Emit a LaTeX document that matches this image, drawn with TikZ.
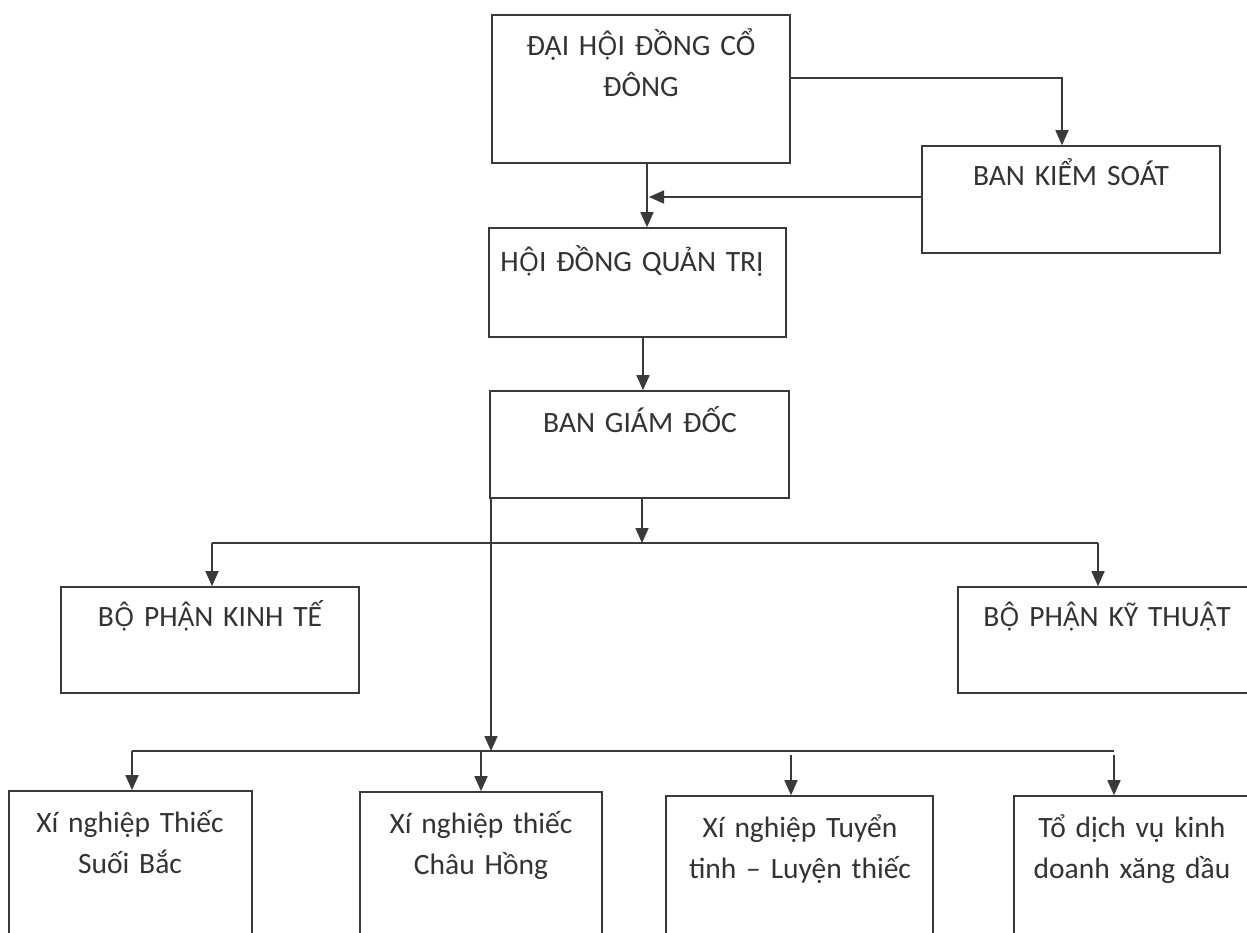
\documentclass[tikz,border=0pt]{standalone}
\usepackage{fontspec}
\setmainfont{Carlito}[WordSpace=0.8]
\newfontfamily\fbk{Noto Sans}[Scale=0.88]
\newcommand{\Ocd}{{\fbk Ộ}}
\newcommand{\Acd}{{\fbk Ậ}}
\usetikzlibrary{arrows.meta,fit}
\definecolor{ink}{HTML}{3A3A3A}
\definecolor{txt}{HTML}{333333}
\tikzset{
  box/.style={draw=ink, line width=1.6pt, rectangle, inner sep=0pt},
  lbl/.style={text=txt, anchor=base, align=center, text width=#1, inner sep=0pt,
    font=\fontsize{29.5pt}{41.5pt}\selectfont},
  lbl/.default=300pt,
  conn/.style={draw=ink, line width=1.6pt},
  arr/.style={conn, -{Triangle[length=15pt,width=13pt]}}
}
\begin{document}
\begin{tikzpicture}[x=1pt,y=-1pt]
\useasboundingbox (0,0) rectangle (1247,932);
\clip (0,0) rectangle (1247,932);
\fill[white] (0,0) rectangle (1247,932);
% boxes
\node[box, fit={(492,15) (790,163)}] (dh) {};
\node[box, fit={(922,146) (1220,253)}] (bks) {};
\node[box, fit={(489,228) (786,337)}] (hd) {};
\node[box, fit={(490,391) (789,498)}] (bgd) {};
\node[box, fit={(61,587) (359,693)}] (kt) {};
\node[box, fit={(958,587) (1256,693)}] (kyt) {};
\node[box, fit={(9,791) (252,960)}] (x1) {};
\node[box, fit={(360,792) (602,960)}] (x2) {};
\node[box, fit={(666,796) (933,960)}] (x3) {};
\node[box, fit={(1014,796) (1252,960)}] (x4) {};
% texts
\node[lbl] (tdh) at (641,55) {ĐẠI H\Ocd I ĐỒNG CỔ\\ĐÔNG};
\node[lbl] (tbks) at (1071,185) {BAN KIỂM SOÁT};
\node[lbl] (thd) at (632,271) {H\Ocd I ĐỒNG QUẢN TRỊ};
\node[lbl] (tbgd) at (640,432) {BAN GIÁM ĐỐC};
\node[lbl] (tkt) at (210,626) {B\Ocd\ PH\Acd N KINH TẾ};
\node[lbl] (tkyt) at (1107,626) {B\Ocd\ PH\Acd N KỸ THU\Acd T};
\node[lbl=240pt] (tx1) at (130,832) {Xí nghiệp Thiếc\\Suối Bắc};
\node[lbl=240pt] (tx2) at (481,833) {Xí nghiệp thiếc\\Châu Hồng};
\node[lbl=265pt] (tx3) at (800,837) {Xí nghiệp Tuyển\\tinh – Luyện thiếc};
\node[lbl=235pt] (tx4) at (1132,837) {Tổ dịch vụ kinh\\doanh xăng dầu};
% coordinates
\coordinate (j1) at (649,197);
\coordinate (b1) at (642,543);
\coordinate (b1l) at (212,543);
\coordinate (b1r) at (1098,543);
\coordinate (b2) at (491,751);
\coordinate (b2l) at (132,751);
\coordinate (b2r) at (1114,751);
\coordinate (b2a) at (481,751);
\coordinate (b2c) at (791,755);
\coordinate (b2d) at (1114,755);
% connectors
\draw[arr] (dh.east |- 0,78) -| (bks.north -| 1062,0);
\draw[arr] (dh.south -| 647,0) -- (hd.north -| 647,0);
\draw[arr] (bks.west |- 0,197) -- (j1);
\draw[arr] (hd.south -| 643,0) -- (bgd.north -| 643,0);
\draw[arr] (bgd.south -| 642,0) -- (b1);
\draw[conn] (b1l) -- (b1r);
\draw[arr] (b1l) -- (kt.north -| b1l);
\draw[arr] (b1r) -- (kyt.north -| b1r);
\draw[arr] (bgd.south west -| b2) -- (b2);
\draw[conn] (b2l) -- (b2r);
\draw[arr] (b2l) -- (x1.north -| b2l);
\draw[arr] (b2a) -- (x2.north -| b2a);
\draw[arr] (b2c) -- (x3.north -| b2c);
\draw[arr] (b2d) -- (x4.north -| b2d);
\end{tikzpicture}
\end{document}
